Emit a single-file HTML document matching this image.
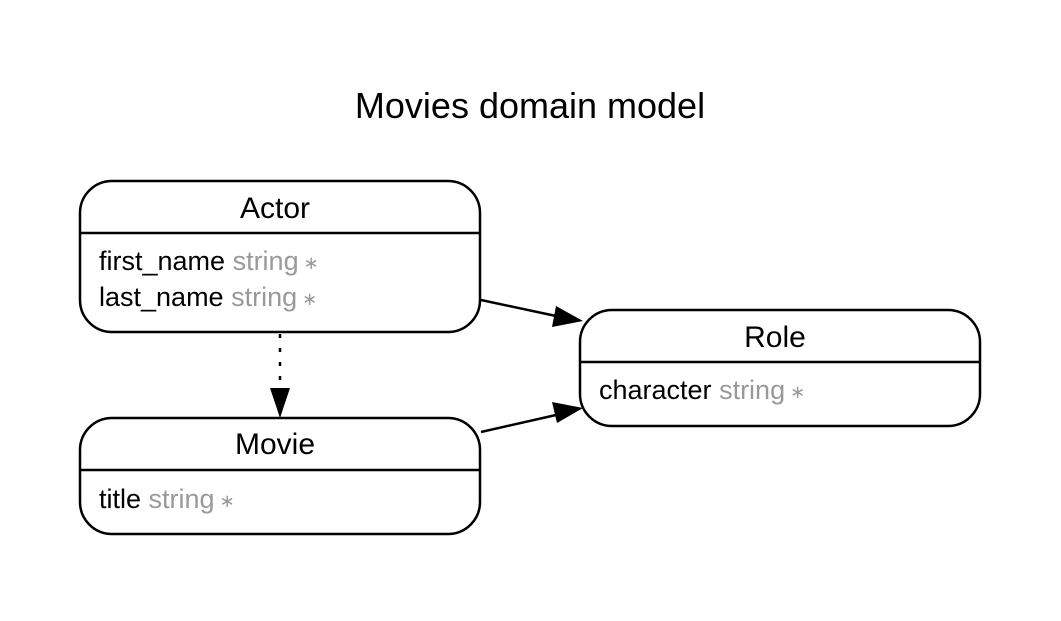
<!DOCTYPE html>
<html><head><style>body{margin:0;background:#fff}</style></head><body>
<svg width="1061" height="616" xmlns="http://www.w3.org/2000/svg" font-family="Liberation Sans, Arial, sans-serif">
<rect width="1061" height="616" fill="#fff"/>
<text x="530" y="118" font-size="36" text-anchor="middle">Movies domain model</text>
<g fill="none" stroke="#000" stroke-width="2.5">
<rect x="80" y="181" width="400" height="151" rx="32"/>
<line x1="80" y1="233" x2="480" y2="233"/>
<rect x="580" y="310" width="400" height="116" rx="32"/>
<line x1="580" y1="362" x2="980" y2="362"/>
<rect x="80" y="418" width="400" height="116" rx="32"/>
<line x1="80" y1="470" x2="480" y2="470"/>
<line x1="481" y1="300" x2="556" y2="316"/>
<line x1="481" y1="432" x2="556" y2="415"/>
<line x1="280" y1="334" x2="280" y2="390" stroke-dasharray="4,10"/>
</g>
<polygon points="583,321 556,306 552,327" fill="#000"/>
<polygon points="583,408 552,402 557,423" fill="#000"/>
<polygon points="280,418 270,388 290,388" fill="#000"/>
<g font-size="30" text-anchor="middle">
<text x="275" y="218">Actor</text>
<text x="775" y="347">Role</text>
<text x="275" y="454">Movie</text>
</g>
<g font-size="27">
<text x="99" y="270">first_name <tspan fill="#999">string</tspan><tspan fill="#999" font-size="18" dy="-1"> ∗</tspan></text>
<text x="99" y="306">last_name <tspan fill="#999">string</tspan><tspan fill="#999" font-size="18" dy="-1"> ∗</tspan></text>
<text x="599" y="399">character <tspan fill="#999">string</tspan><tspan fill="#999" font-size="18" dy="-1"> ∗</tspan></text>
<text x="99" y="508">title <tspan fill="#999">string</tspan><tspan fill="#999" font-size="18" dy="-1"> ∗</tspan></text>
</g>
</svg>
</body></html>
